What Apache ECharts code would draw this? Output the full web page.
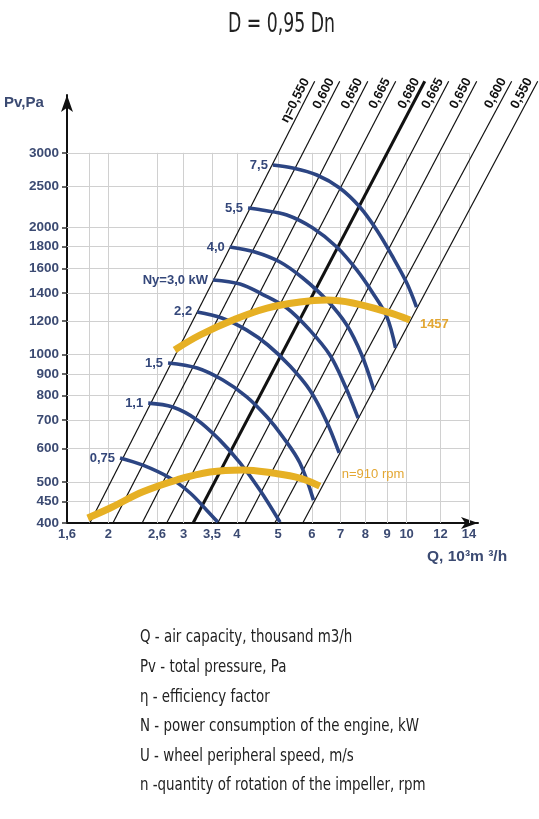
<!DOCTYPE html>
<html>
<head>
<meta charset="utf-8">
<script src="https://cdn.jsdelivr.net/npm/echarts@6/dist/echarts.min.js"></script>
<style>
  html, body { margin: 0; padding: 0; background: #fff; }
  #chart { width: 539px; height: 819px; }
</style>
</head>
<body>
<div id="chart"></div>
<script>
// axes (Q in 10^3 m3/h, Pv in Pa), both logarithmic
const X_TICKS = [1.6, 2, 2.6, 3, 3.5, 4, 5, 6, 7, 8, 9, 10, 12, 14];
const X_TICK_LABELS = ["1,6", "2", "2,6", "3", "3,5", "4", "5", "6", "7", "8", "9", "10", "12", "14"];
const X_GRID = [1.8, 2, 2.6, 3, 3.5, 4, 5, 6, 7, 8, 9, 10, 12, 14];
const Y_TICKS = [400, 450, 500, 600, 700, 800, 900, 1000, 1200, 1400, 1600, 1800, 2000, 2500, 3000];
const Q_RANGE = [1.6, 14.7];
const P_RANGE = [400, 4110];
const Q_GRID_END = 14;
const P_GRID_END = 3000;

// efficiency lines: Q at the bottom (400 Pa) and at the top end
const ETA_LABELS = ["\u03b7=0,550", "0,600", "0,650", "0,665", "0,680", "0,665", "0,650", "0,600", "0,550"];
const ETA_Q_BOTTOM = [1.81, 2.05, 2.40, 2.74, 3.16, 3.61, 4.18, 4.91, 5.71];
const ETA_Q_TOP = [6.09, 6.97, 8.11, 9.43, 11.03, 12.55, 14.60, 17.63, 20.29];
const ETA_P = [400, 4430];

// power curves, Ny kW
const N075_Q = [2.13, 2.41, 2.79, 3.11, 3.40, 3.61];
const N075_P = [570, 548, 511, 471, 429, 402];
const N110_Q = [2.48, 2.83, 3.23, 3.65, 4.07, 4.53, 5.05];
const N110_P = [768, 752, 701, 628, 555, 479, 402];
const N150_Q = [2.76, 3.23, 3.71, 4.22, 4.71, 5.13, 5.62, 6.05];
const N150_P = [956, 930, 871, 795, 712, 639, 555, 453];
const N220_Q = [3.23, 3.69, 4.22, 4.73, 5.33, 5.93, 6.47, 6.95];
const N220_P = [1262, 1221, 1143, 1054, 940, 825, 701, 586];
const N300_Q = [3.52, 4.07, 4.58, 5.24, 5.93, 6.61, 7.16, 7.70];
const N300_P = [1502, 1469, 1391, 1289, 1143, 998, 848, 708];
const N400_Q = [3.85, 4.41, 5.05, 5.71, 6.50, 7.24, 7.85, 8.38];
const N400_P = [1797, 1749, 1656, 1518, 1346, 1175, 998, 825];
const N550_Q = [4.25, 4.58, 5.24, 6.03, 6.86, 7.64, 8.33, 8.99, 9.42];
const N550_P = [2222, 2198, 2139, 1993, 1797, 1586, 1399, 1228, 1037];
const N750_Q = [4.86, 5.41, 6.16, 6.97, 7.77, 8.51, 9.28, 10.01, 10.55];
const N750_P = [2808, 2762, 2659, 2478, 2234, 1971, 1702, 1477, 1296];
const POWER_LABELS = ["0,75", "1,1", "1,5", "2,2", "Ny=3,0 kW", "4,0", "5,5", "7,5"];

// impeller speed curves
const RPM1457_Q = [2.86, 3.28, 3.92, 4.71, 5.62, 6.50, 7.48, 8.99, 10.18];
const RPM1457_P = [1026, 1113, 1208, 1289, 1332, 1346, 1325, 1262, 1208];
const RPM910_Q = [1.79, 2.02, 2.41, 2.90, 3.46, 4.13, 4.86, 5.62, 6.26];
const RPM910_P = [411, 434, 474, 506, 528, 534, 525, 511, 489];

const LEGEND_LINES = [
  "Q - air capacity, thousand m3/h",
  "Pv - total pressure, Pa",
  "\u03b7 - efficiency factor",
  "N - power consumption of the engine, kW",
  "U - wheel peripheral speed, m/s",
  "n -quantity of rotation of the impeller, rpm",
];

const ARIAL = '"Liberation Sans", Arial, sans-serif';
const PLAIN = '"DejaVu Sans", sans-serif';
const AXIS_TEXT = "#3b4a72";
const BLUE = "#2c4583";
const GOLD = "#e6b024";

const lg = Math.log10;
const toPoints = (qs, ps) => qs.map((q, i) => [lg(q), lg(ps[i])]);

function tickFormatter(values, labels) {
  return (v) => {
    const i = values.findIndex((t) => Math.abs(lg(t) - v) < 1e-6);
    return i < 0 ? "" : labels[i];
  };
}

const gridSeries = {
  type: "lines",
  coordinateSystem: "cartesian2d",
  silent: true,
  z: 1,
  lineStyle: { color: "#d0d0d0", width: 1, opacity: 1 },
  data: [
    ...X_GRID.map((q) => ({ coords: [[lg(q), lg(P_RANGE[0])], [lg(q), lg(P_GRID_END)]] })),
    ...Y_TICKS.slice(1).map((p) => ({ coords: [[lg(Q_RANGE[0]), lg(p)], [lg(Q_GRID_END), lg(p)]] })),
  ],
};

const etaSeries = {
  type: "lines",
  coordinateSystem: "cartesian2d",
  silent: true,
  clip: false,
  z: 2,
  data: ETA_LABELS.map((name, i) => ({
    name,
    coords: [[lg(ETA_Q_BOTTOM[i]), lg(ETA_P[0])], [lg(ETA_Q_TOP[i]), lg(ETA_P[1])]],
    lineStyle: { color: "#111", width: name === "0,680" ? 3 : 1.2, opacity: 1 },
  })),
  label: {
    show: true,
    position: "insideEndTop",
    formatter: "{b}",
    distance: 2,
    color: "#111",
    fontFamily: ARIAL,
    fontWeight: "bold",
    fontSize: 13,
  },
};

const powerCurves = [
  [N075_Q, N075_P], [N110_Q, N110_P], [N150_Q, N150_P], [N220_Q, N220_P],
  [N300_Q, N300_P], [N400_Q, N400_P], [N550_Q, N550_P], [N750_Q, N750_P],
];

const powerSeries = powerCurves.map(([qs, ps], k) => ({
  type: "line",
  name: POWER_LABELS[k],
  silent: true,
  clip: false,
  z: 3,
  smooth: 0.35,
  symbol: "circle",
  symbolSize: 0,
  showSymbol: true,
  lineStyle: { color: BLUE, width: 3.6 },
  itemStyle: { color: BLUE },
  data: toPoints(qs, ps).map((value, i) => ({
    value,
    label: i === 0 ? {
      show: true,
      position: "left",
      distance: 5,
      formatter: POWER_LABELS[k],
      color: "#34477a",
      fontFamily: ARIAL,
      fontWeight: "bold",
      fontSize: 13,
    } : { show: false },
  })),
}));

function rpmSeries(qs, ps, text, offset, weight) {
  return {
    type: "line",
    silent: true,
    clip: false,
    z: 4,
    smooth: 0.4,
    showSymbol: false,
    lineStyle: { color: GOLD, width: 7 },
    itemStyle: { color: GOLD },
    data: toPoints(qs, ps),
    endLabel: {
      show: true,
      formatter: text,
      offset,
      color: "#e3a733",
      fontFamily: ARIAL,
      fontWeight: weight,
      fontSize: 13,
    },
  };
}

const chart = echarts.init(document.getElementById("chart"));
chart.setOption({
  animation: false,
  backgroundColor: "#fff",
  grid: { left: 67, right: 61, top: 95, bottom: 296 },
  xAxis: {
    type: "value",
    min: lg(Q_RANGE[0]),
    max: lg(Q_RANGE[1]),
    splitLine: { show: false },
    axisTick: { show: false },
    axisLine: {
      lineStyle: { color: "#111", width: 2 },
      symbol: ["none", "arrow"],
      symbolSize: [9, 17],
    },
    axisLabel: {
      customValues: X_TICKS.map(lg),
      formatter: tickFormatter(X_TICKS, X_TICK_LABELS),
      color: AXIS_TEXT,
      fontFamily: ARIAL,
      fontWeight: "bold",
      fontSize: 13,
      margin: 5,
    },
  },
  yAxis: {
    type: "value",
    min: lg(P_RANGE[0]),
    max: lg(P_RANGE[1]),
    splitLine: { show: false },
    axisTick: {
      show: true,
      customValues: Y_TICKS.map(lg),
      length: 5,
      lineStyle: { color: "#333", width: 1.5 },
    },
    axisLine: {
      lineStyle: { color: "#111", width: 2 },
      symbol: ["none", "arrow"],
      symbolSize: [9, 17],
    },
    axisLabel: {
      customValues: Y_TICKS.map(lg),
      formatter: tickFormatter(Y_TICKS, Y_TICKS.map(String)),
      color: AXIS_TEXT,
      fontFamily: ARIAL,
      fontWeight: "bold",
      fontSize: 13.5,
      margin: 8,
    },
  },
  graphic: [
    {
      type: "text", x: 228, y: 12, scaleX: 0.665,
      style: { text: "D = 0,95 Dn", font: `26px ${PLAIN}`, fill: "#222", verticalAlign: "top" },
    },
    {
      type: "text", x: 4, y: 95,
      style: { text: "Pv,Pa", font: `bold 15px ${ARIAL}`, fill: AXIS_TEXT, verticalAlign: "top" },
    },
    {
      type: "text", x: 427, y: 549,
      style: { text: "Q, 10\u00b3m \u00b3/h", font: `bold 15.5px ${ARIAL}`, fill: AXIS_TEXT, verticalAlign: "top" },
    },
    {
      type: "text", x: 140, y: 623, scaleX: 0.745,
      style: {
        text: LEGEND_LINES.join("\n"),
        font: `18px ${PLAIN}`,
        lineHeight: 29.6,
        fill: "#222",
        verticalAlign: "top",
      },
    },
  ],
  series: [
    gridSeries,
    etaSeries,
    ...powerSeries,
    rpmSeries(RPM1457_Q, RPM1457_P, "1457", [2, 4], "bold"),
    rpmSeries(RPM910_Q, RPM910_P, "n=910 rpm", [14, -12], "normal"),
  ],
});

window.addEventListener("resize", () => chart.resize());
</script>
</body>
</html>
